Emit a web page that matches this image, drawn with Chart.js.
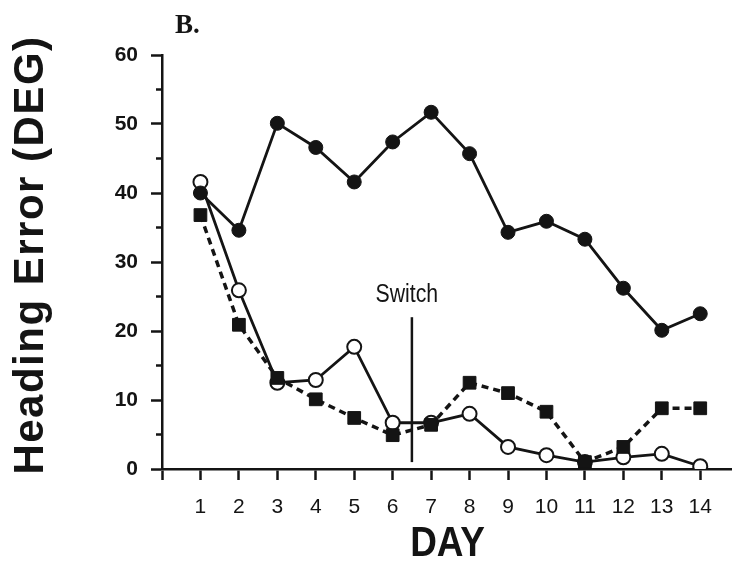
<!DOCTYPE html>
<html>
<head>
<meta charset="utf-8">
<title>Heading error by day</title>
<script src="https://cdn.jsdelivr.net/npm/chart.js@4.4.1/dist/chart.umd.min.js"></script>
<style>
  html, body { margin: 0; padding: 0; background: #fff; }
  canvas { display: block; }
</style>
</head>
<body>
<canvas id="chart" width="741" height="565"></canvas>
<script>
// Training days and mean heading error (degrees) for each group
const days = [1, 2, 3, 4, 5, 6, 7, 8, 9, 10, 11, 12, 13, 14];
const filledCircle = [40.0, 34.6, 50.1, 46.6, 41.6, 47.4, 51.7, 45.7, 34.3, 35.9, 33.3, 26.2, 20.1, 22.5];
const openCircle   = [41.6, 25.9, 12.5, 12.9, 17.7, 6.7, 6.7, 8.0, 3.2, 2.0, 1.0, 1.7, 2.2, 0.4];
const filledSquare = [36.8, 20.9, 13.2, 10.1, 7.4, 4.9, 6.4, 12.5, 11.0, 8.3, 1.0, 3.2, 8.8, 8.8];

// Condition switch happens between day 6 and day 7
const switchDay = 6.5;
const switchSpan = [1, 22];
const switchLabel = 'Switch';

const panelLabel = 'B.';
const yTitle = 'Heading Error (DEG)';
const xTitle = 'DAY';

const INK = '#141414';
const SANS = '"Liberation Sans", Arial, sans-serif';
const toPoints = values => values.map((v, i) => ({x: days[i], y: v}));

Chart.defaults.font.family = SANS;
Chart.defaults.color = INK;

// squeezed text, the labels are set in a condensed face
function narrowText(ctx, text, x, y, squeeze) {
    ctx.save();
    ctx.translate(x, y);
    ctx.scale(squeeze, 1);
    ctx.fillText(text, 0, 0);
    ctx.restore();
}

// panel letter, axis titles, minor y ticks and the switch caption
const decorations = {
    id: 'decorations',
    afterDraw(chart) {
        const {ctx, chartArea, scales: {x, y}} = chart;
        ctx.save();
        ctx.fillStyle = INK;
        ctx.strokeStyle = INK;

        // short ticks at the odd fives
        ctx.lineWidth = 2.5;
        for (let v = 5; v < 60; v += 10) {
            const py = y.getPixelForValue(v);
            ctx.beginPath();
            ctx.moveTo(x.left - 6, py);
            ctx.lineTo(x.left, py);
            ctx.stroke();
        }

        ctx.font = 'bold 27px "Liberation Serif", "Times New Roman", serif';
        ctx.textAlign = 'left';
        ctx.textBaseline = 'alphabetic';
        ctx.fillText(panelLabel, 175, 33);

        ctx.textAlign = 'center';
        ctx.textBaseline = 'middle';
        ctx.font = '25px ' + SANS;
        narrowText(ctx, switchLabel, x.getPixelForValue(switchDay) - 5, y.getPixelForValue(switchSpan[1]) - 22, 0.85);

        ctx.font = 'bold 42px ' + SANS;
        narrowText(ctx, xTitle, (chartArea.left + chartArea.right) / 2 + 1, 544, 0.88);

        ctx.translate(31, 255);
        ctx.rotate(-Math.PI / 2);
        ctx.font = 'bold 42px ' + SANS;
        ctx.letterSpacing = '1.5px';
        ctx.fillText(yTitle, 0, 0);
        ctx.restore();
    }
};

new Chart(document.getElementById('chart'), {
    type: 'line',
    data: {
        datasets: [
            {
                label: 'group 1',
                data: toPoints(filledCircle),
                borderColor: INK,
                borderWidth: 2.8,
                pointStyle: 'circle',
                pointRadius: 7,
                pointBackgroundColor: INK,
                pointBorderColor: INK,
                pointBorderWidth: 1,
                order: 1
            },
            {
                label: 'group 2',
                data: toPoints(filledSquare),
                borderColor: INK,
                borderWidth: 3.5,
                borderDash: [7, 5],
                pointStyle: 'rect',
                pointRadius: 9,
                pointBackgroundColor: INK,
                pointBorderColor: INK,
                pointBorderWidth: 1,
                order: 2
            },
            {
                label: 'group 3',
                data: toPoints(openCircle),
                borderColor: INK,
                borderWidth: 2.8,
                pointStyle: 'circle',
                pointRadius: 7,
                pointBackgroundColor: '#fff',
                pointBorderColor: INK,
                pointBorderWidth: 2,
                order: 3
            },
            {
                label: 'switch',
                data: switchSpan.map(v => ({x: switchDay, y: v})),
                borderColor: INK,
                borderWidth: 2.5,
                pointRadius: 0,
                order: 4
            }
        ]
    },
    options: {
        responsive: false,
        animation: false,
        layout: {padding: {left: 0, right: 4.4, top: 55, bottom: 0}},
        plugins: {
            legend: {display: false},
            tooltip: {enabled: false}
        },
        elements: {line: {tension: 0}},
        scales: {
            x: {
                type: 'linear',
                min: 0,
                max: 14.8,
                afterFit(scale) { scale.height = 96; },
                afterBuildTicks(scale) {
                    scale.ticks = [0].concat(days).map(v => ({value: v}));
                },
                border: {display: true, color: INK, width: 2.5},
                grid: {
                    display: true,
                    drawOnChartArea: false,
                    drawTicks: true,
                    tickLength: 11,
                    tickWidth: 2.5,
                    tickColor: INK
                },
                ticks: {
                    padding: 15,
                    font: {size: 21},
                    maxRotation: 0,
                    autoSkip: false,
                    callback: v => (v === 0 ? '' : String(v))
                }
            },
            y: {
                min: 0,
                max: 60,
                afterFit(scale) { scale.width = 162; },
                border: {display: true, color: INK, width: 2.5},
                grid: {
                    display: true,
                    drawOnChartArea: false,
                    drawTicks: true,
                    tickLength: 11,
                    tickWidth: 2.5,
                    tickColor: ctx => (ctx.tick && ctx.tick.value % 10 === 0 ? INK : 'rgba(0,0,0,0)')
                },
                ticks: {
                    stepSize: 5,
                    padding: 13,
                    font: {size: 21, weight: 'bold'},
                    callback: v => (v % 10 === 0 ? String(v) : '')
                }
            }
        }
    },
    plugins: [decorations]
});
</script>
</body>
</html>
